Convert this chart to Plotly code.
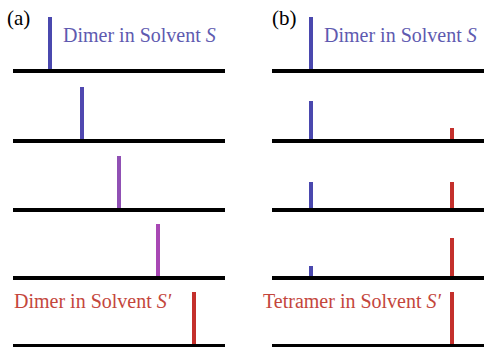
import plotly.graph_objects as go

# peak positions (fraction of baseline length) and heights, top row first
a_pos = [0.175, 0.325, 0.50, 0.684, 0.854]
a_height = [1.0, 1.0, 1.0, 1.0, 1.0]
a_colour = ["#4a48ae", "#5048b0", "#9050b4", "#a848b4", "#c4302c"]

b_dimer_pos = 0.184
b_tetramer_pos = 0.849
b_dimer = [1.0, 0.72, 0.50, 0.20, 0.0]
b_tetramer = [0.0, 0.22, 0.50, 0.72, 1.0]
dimer_colour = "#4a48ae"
tetramer_colour = "#c4302c"

W, H = 484, 347
baselines_px = [69, 139, 208, 276, 344]
row_px = 60
panel_px = {"a": (13, 225), "b": (272, 484)}

fig = go.Figure()
layout = {}

n = 0
for panel in ["a", "b"]:
    x0, x1 = panel_px[panel]
    for i in range(5):
        n += 1
        xa = "x" if n == 1 else "x" + str(n)
        ya = "y" if n == 1 else "y" + str(n)
        if panel == "a":
            fig.add_trace(go.Bar(x=[a_pos[i]], y=[a_height[i]], width=0.019,
                                 marker=dict(color=a_colour[i], line=dict(width=0)),
                                 xaxis=xa, yaxis=ya, showlegend=False))
        else:
            fig.add_trace(go.Bar(x=[b_dimer_pos, b_tetramer_pos], y=[b_dimer[i], b_tetramer[i]],
                                 width=0.019,
                                 marker=dict(color=[dimer_colour, tetramer_colour], line=dict(width=0)),
                                 xaxis=xa, yaxis=ya, showlegend=False))
        yb = baselines_px[i]
        key = "" if n == 1 else str(n)
        layout["xaxis" + key] = dict(domain=[x0 / W, x1 / W], range=[0, 1], anchor=ya,
                                     showline=True, linecolor="black", linewidth=4,
                                     showgrid=False, zeroline=False, showticklabels=False,
                                     ticks="", fixedrange=True)
        layout["yaxis" + key] = dict(domain=[1 - yb / H, 1 - (yb - row_px) / H],
                                     range=[0, 1.15], anchor=xa, visible=False,
                                     showgrid=False, zeroline=False, fixedrange=True)

fig.update_layout(**layout)

font = "Liberation Serif, DejaVu Serif, serif"
fig.add_annotation(text="(a)", x=5 / W, y=1 - 18 / H, xref="paper", yref="paper",
                   xanchor="left", yanchor="middle", showarrow=False,
                   font=dict(family=font, size=21, color="black"))
fig.add_annotation(text="(b)", x=270 / W, y=1 - 18 / H, xref="paper", yref="paper",
                   xanchor="left", yanchor="middle", showarrow=False,
                   font=dict(family=font, size=21, color="black"))
fig.add_annotation(text="Dimer in Solvent <i>S</i>", x=61 / W, y=1 - 35 / H,
                   xref="paper", yref="paper", xanchor="left", yanchor="middle",
                   showarrow=False, font=dict(family=font, size=20, color="#5e5ab0"))
fig.add_annotation(text="Dimer in Solvent <i>S</i>", x=322 / W, y=1 - 35 / H,
                   xref="paper", yref="paper", xanchor="left", yanchor="middle",
                   showarrow=False, font=dict(family=font, size=20, color="#5e5ab0"))
fig.add_annotation(text="Dimer in Solvent <i>S\u2032</i>", x=12 / W, y=1 - 301 / H,
                   xref="paper", yref="paper", xanchor="left", yanchor="middle",
                   showarrow=False, font=dict(family=font, size=20, color="#c4463c"))
fig.add_annotation(text="Tetramer in Solvent <i>S\u2032</i>", x=261 / W, y=1 - 301 / H,
                   xref="paper", yref="paper", xanchor="left", yanchor="middle",
                   showarrow=False, font=dict(family=font, size=20, color="#c4463c"))

fig.update_layout(width=W, height=H, margin=dict(l=0, r=0, t=0, b=0),
                  paper_bgcolor="white", plot_bgcolor="white", bargap=0)

# the page body has a default 8px margin; remove it so the figure fills the window
fig.write_html("out.html", config={"displayModeBar": False},
               post_script="document.body.style.margin='0';")
